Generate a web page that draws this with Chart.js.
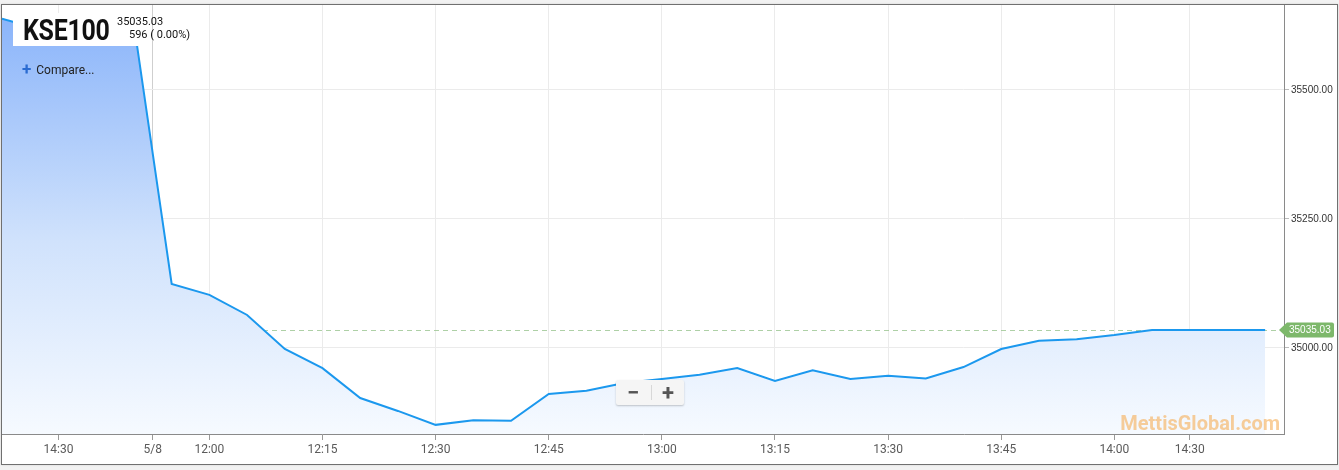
<!DOCTYPE html>
<html>
<head>
<meta charset="utf-8">
<script src="https://cdn.jsdelivr.net/npm/chart.js@4/dist/chart.umd.min.js"></script>
<style>
    html, body { margin: 0; padding: 0; background: #f2f2f2; }
    body { width: 1339px; height: 470px; position: relative; overflow: hidden; font-family: Roboto, sans-serif; }
    .widget {
        position: absolute; left: 1px; top: 4px; width: 1335px; height: 459px;
        border: 1px solid #707070; background: #fff;
        box-shadow: 0 0 2px rgba(0, 0, 0, 0.12);
    }
    .chart-box { position: absolute; left: 0; top: 0; width: 1335px; height: 459px; }
    .symbol-box { position: absolute; left: 11px; top: 8px; width: 125px; height: 33px; background: #fff; }
    .symbol {
        position: absolute; left: 21px; top: 9px; font-size: 29px; font-weight: 700; color: #111;
        line-height: 32px; transform: scaleX(0.86); transform-origin: left top; letter-spacing: -0.3px;
    }
    .quote { position: absolute; font-size: 11px; color: #111; line-height: 12px; }
    .compare { position: absolute; left: 20px; top: 56px; font-size: 12px; color: #222; line-height: 14px; }
    .compare b { color: #2a6bd1; font-size: 17px; font-weight: 700; margin-right: 5px; position: relative; top: 1px; }
    .zoom-btns {
        position: absolute; left: 614px; top: 375px; width: 68px; height: 25px; background: #f5f5f5;
        box-shadow: 0 1px 2px rgba(0, 0, 0, 0.22); border-radius: 2px;
        color: #555; font-weight: 700; font-size: 22px; line-height: 25px;
    }
    .zoom-btns span { position: absolute; top: 0; width: 34px; text-align: center; }
    .zoom-btns i { position: absolute; left: 35px; top: 5px; width: 1px; height: 15px; background: #d8d8d8; }
</style>
</head>
<body>
<div class="widget">
    <div class="chart-box"><canvas id="kseChart"></canvas></div>
    <div class="symbol-box"></div>
    <div class="symbol">KSE100</div>
    <div class="quote" style="left:115px; top:11px;">35035.03</div>
    <div class="quote" style="left:127px; top:24px;">596 ( 0.00%)</div>
    <div class="compare"><b>+</b>Compare...</div>
    <div class="zoom-btns"><span style="left:0">&minus;</span><i></i><span style="left:35px">+</span></div>
</div>
<script>
// x positions: 5-minute slots, previous session squeezed before "5/8"
const slots = [-4.5, -4, -3, -2, -1,
    0, 1, 2, 3, 4, 5, 6, 7, 8, 9,
    10, 11, 12, 13, 14, 15, 16, 17, 18, 19,
    20, 21, 22, 23, 24, 25, 26, 27, 28, 29];

const kseValues = [35638, 35628, 35624, 35626, 35627,
    35124, 35103, 35064, 34998, 34961, 34903, 34878, 34851, 34860, 34859,
    34911, 34917, 34932, 34940, 34948, 34961, 34936, 34957, 34940, 34946,
    34941, 34963, 34998, 35014, 35017, 35025, 35035.03, 35035.03, 35035.03, 35035.03];

const xTickPos = [-3, -0.5, 1, 4, 7, 10, 13, 16, 19, 22, 25, 27];
const xTickLabels = ['14:30', '5/8', '12:00', '12:15', '12:30', '12:45', '13:00', '13:15', '13:30', '13:45', '14:00', '14:30'];

const yTickValues = [35000, 35250, 35500];
const lastValue = 35035.03;

const overlayPlugin = {
    id: 'kseOverlay',
    beforeDatasetsDraw(chart) {
        const { ctx, chartArea, scales } = chart;
        const y = Math.round(scales.y.getPixelForValue(lastValue)) + 0.5;
        ctx.save();
        ctx.strokeStyle = 'rgba(160, 200, 150, 0.85)';
        ctx.lineWidth = 1;
        ctx.setLineDash([5, 4]);
        ctx.beginPath();
        ctx.moveTo(chartArea.left, y);
        ctx.lineTo(chartArea.right - 8, y);
        ctx.stroke();
        ctx.restore();
    },
    afterDatasetsDraw(chart) {
        const { ctx, chartArea, scales } = chart;
        const y = scales.y.getPixelForValue(lastValue);

        // watermark
        ctx.save();
        ctx.font = 'bold 20px Roboto';
        ctx.fillStyle = 'rgba(246, 176, 90, 0.62)';
        ctx.textAlign = 'right';
        ctx.textBaseline = 'alphabetic';
        ctx.fillText('MettisGlobal.com', chartArea.right - 4, chartArea.bottom - 4);
        ctx.restore();

        // last value tag
        const x0 = chartArea.right - 5;
        ctx.save();
        ctx.fillStyle = '#7db86b';
        ctx.beginPath();
        ctx.moveTo(x0, y);
        ctx.lineTo(x0 + 8, y - 7.5);
        ctx.lineTo(x0 + 53, y - 7.5);
        ctx.quadraticCurveTo(x0 + 55, y - 7.5, x0 + 55, y - 5.5);
        ctx.lineTo(x0 + 55, y + 5.5);
        ctx.quadraticCurveTo(x0 + 55, y + 7.5, x0 + 53, y + 7.5);
        ctx.lineTo(x0 + 8, y + 7.5);
        ctx.closePath();
        ctx.fill();
        ctx.fillStyle = '#fff';
        ctx.font = '10px "Liberation Sans", Arial';
        ctx.textAlign = 'left';
        ctx.textBaseline = 'middle';
        ctx.fillText(lastValue.toFixed(2), x0 + 10, y + 0.5);
        ctx.restore();
    }
};

function areaGradient(context) {
    const { ctx, chartArea } = context.chart;
    if (!chartArea) return 'rgba(138, 180, 248, 0.6)';
    const g = ctx.createLinearGradient(0, chartArea.top, 0, chartArea.bottom);
    g.addColorStop(0, 'rgb(135, 178, 250)');
    g.addColorStop(0.55, 'rgb(208, 226, 252)');
    g.addColorStop(1, 'rgb(246, 250, 255)');
    return g;
}

function noPadding(scale) {
    scale.paddingTop = 0;
    scale.paddingBottom = 0;
    scale.paddingLeft = 0;
    scale.paddingRight = 0;
}

new Chart(document.getElementById('kseChart').getContext('2d'), {
    type: 'line',
    data: {
        datasets: [{
            label: 'KSE100',
            data: slots.map((x, i) => ({ x: x, y: kseValues[i] })),
            borderColor: '#1b98ee',
            borderWidth: 2,
            backgroundColor: areaGradient,
            fill: 'start',
            pointRadius: 0,
            tension: 0
        }]
    },
    options: {
        responsive: true,
        maintainAspectRatio: false,
        animation: false,
        layout: { padding: 0 },
        plugins: {
            legend: { display: false },
            tooltip: { enabled: false }
        },
        scales: {
            x: {
                type: 'linear',
                min: -4.5,
                max: 29.5,
                afterBuildTicks: scale => { scale.ticks = xTickPos.map(v => ({ value: v })); },
                afterFit: scale => { scale.height = 30; noPadding(scale); },
                border: { color: '#8a8a8a' },
                grid: {
                    color: c => (c.tick && c.tick.value === -0.5) ? '#cfcfcf' : '#ebebeb',
                    tickColor: '#999',
                    tickLength: 6
                },
                ticks: {
                    autoSkip: false,
                    maxRotation: 0,
                    padding: 3,
                    color: '#5a5a5a',
                    font: { family: 'Roboto', size: 12 },
                    callback: v => xTickLabels[xTickPos.indexOf(v)]
                }
            },
            y: {
                position: 'right',
                min: 34833.3,
                max: 35664.7,
                afterBuildTicks: scale => { scale.ticks = yTickValues.map(v => ({ value: v })); },
                afterFit: scale => { scale.width = 53; noPadding(scale); },
                border: { color: '#8a8a8a' },
                grid: {
                    color: '#ebebeb',
                    tickColor: '#bbb',
                    tickLength: 5
                },
                ticks: {
                    padding: 2,
                    color: '#333',
                    font: { family: 'Liberation Sans, Arial', size: 10 },
                    callback: v => Number(v).toFixed(2)
                }
            }
        }
    },
    plugins: [overlayPlugin]
});
</script>
</body>
</html>
